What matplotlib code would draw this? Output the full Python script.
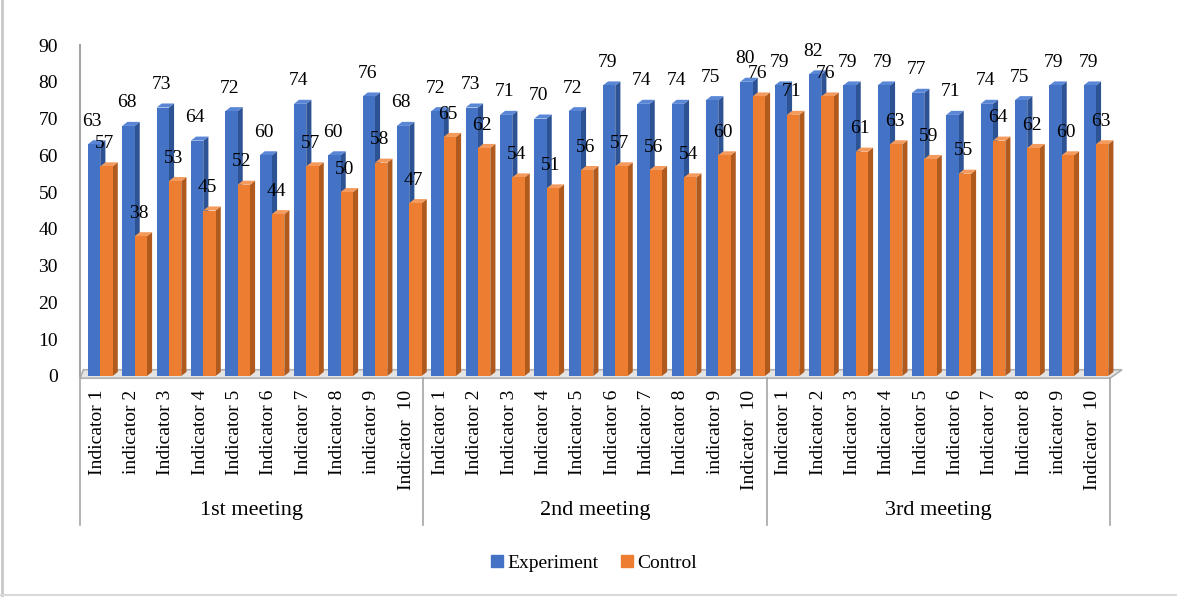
import matplotlib
matplotlib.use("Agg")
import matplotlib.pyplot as plt
from matplotlib.patches import Polygon, Rectangle
from matplotlib.lines import Line2D

plt.rcParams['font.family'] = ['Liberation Serif', 'DejaVu Serif']

groups = ["1st meeting", "2nd meeting", "3rd meeting"]
labels_1 = ["Indicator 1", "indicator 2", "Indicator 3", "Indicator 4", "Indicator 5",
            "Indicator 6", "Indicator 7", "Indicator 8", "indicator 9", "Indicator  10"]
labels_2 = ["Indicator 1", "Indicator 2", "Indicator 3", "Indicator 4", "Indicator 5",
            "Indicator 6", "Indicator 7", "Indicator 8", "indicator 9", "Indicator  10"]
labels_3 = ["Indicator 1", "Indicator 2", "Indicator 3", "Indicator 4", "Indicator 5",
            "Indicator 6", "Indicator 7", "Indicator 8", "indicator 9", "Indicator  10"]

experiment_1 = [63, 68, 73, 64, 72, 60, 74, 60, 76, 68]
control_1 = [57, 38, 53, 45, 52, 44, 57, 50, 58, 47]
experiment_2 = [72, 73, 71, 70, 72, 79, 74, 74, 75, 80]
control_2 = [65, 62, 54, 51, 56, 57, 56, 54, 60, 76]
experiment_3 = [79, 82, 79, 79, 77, 71, 74, 75, 79, 79]
control_3 = [71, 76, 61, 63, 59, 55, 64, 62, 60, 63]

cat_labels = labels_1 + labels_2 + labels_3
experiment = experiment_1 + experiment_2 + experiment_3
control = control_1 + control_2 + control_3
n = len(cat_labels)

blue = ("#4472C4", "#2E5395", "#5A86D6")   # front, side, top
orange = ("#ED7D31", "#B05A1E", "#F39A5C")

W, H = 1177, 597
fig = plt.figure(figsize=(W / 100, H / 100), dpi=100)
ax = fig.add_axes([80 / W, (H - 376) / H, 1030 / W, 331 / H])
ax.set_xlim(-0.5, n - 0.5)
ax.set_ylim(0, 90)

bw = 0.36
dx, dy = 0.15, 1.1

# floor
floor = Polygon([(-0.5, -0.6), (n - 0.5, -0.6), (n - 0.5 + 0.35, 1.7), (-0.5 + 0.1, 1.7)],
                closed=True, facecolor="#E4E4E4", edgecolor="#B0B0B0", lw=1.2,
                clip_on=False, zorder=1)
ax.add_patch(floor)


def bar3d(x0, v, cols, z):
    front = Rectangle((x0, 0), bw, v, facecolor=cols[0], edgecolor="none", zorder=z)
    side = Polygon([(x0 + bw, 0), (x0 + bw + dx, dy), (x0 + bw + dx, v + dy), (x0 + bw, v)],
                   closed=True, facecolor=cols[1], edgecolor="none", zorder=z)
    top = Polygon([(x0, v), (x0 + dx, v + dy), (x0 + bw + dx, v + dy), (x0 + bw, v)],
                  closed=True, facecolor=cols[2], edgecolor="none", zorder=z)
    for p in (side, top, front):
        p.set_clip_on(False)
        ax.add_patch(p)


for i in range(n):
    xb = i - 0.27
    xo = xb + bw
    bar3d(xb, experiment[i], blue, 2 + i * 0.01)
    bar3d(xo, control[i], orange, 2.005 + i * 0.01)
    ax.annotate(str(experiment[i]), (xb + bw / 2 - 0.05, experiment[i]), xytext=(0, 16.5),
                textcoords="offset points", ha="center", va="center", fontsize=14,
                color="black", zorder=5)
    ax.annotate(str(control[i]), (xo + bw / 2 - 0.05, control[i]), xytext=(0, 16.5),
                textcoords="offset points", ha="center", va="center", fontsize=14,
                color="black", zorder=5)

for s in ("top", "right", "bottom"):
    ax.spines[s].set_visible(False)
ax.spines["left"].set_color("#A6A6A6")
ax.spines["left"].set_linewidth(1.5)
ax.set_yticks(range(0, 91, 10))
ax.tick_params(axis="y", length=0, pad=16, labelsize=14)
ax.set_xticks(range(n))
ax.set_xticklabels(cat_labels, rotation=90, fontsize=14, va="top", ha="center")
ax.tick_params(axis="x", length=0, pad=10)

# group separators and labels
for b in (-0.5, 9.5, 19.5, 29.5):
    ax.add_line(Line2D([b, b], [-0.6, -40.5], color="#A6A6A6", lw=1.2, clip_on=False))
for g, name in enumerate(groups):
    ax.text(g * 10 + 4.5, -36.5, name, ha="center", va="center", fontsize=16)

# legend
handles = [Line2D([], [], marker="s", ls="none", color=blue[0], markersize=8),
           Line2D([], [], marker="s", ls="none", color=orange[0], markersize=8)]
fig.legend(handles, ["Experiment", "Control"], loc="center", bbox_to_anchor=(594 / W, 1 - 563 / H),
           ncol=2, frameon=False, fontsize=14, handlelength=0.6, handletextpad=0.2,
           columnspacing=1.2)

# outer border (left and bottom visible)
fig.add_artist(Line2D([2 / W, 2 / W], [0, 1], color="#C8C8C8", lw=2, transform=fig.transFigure))
fig.add_artist(Line2D([0, 1], [2 / H, 2 / H], color="#D9D9D9", lw=1.5, transform=fig.transFigure))

fig.savefig("out.png", dpi=100)
